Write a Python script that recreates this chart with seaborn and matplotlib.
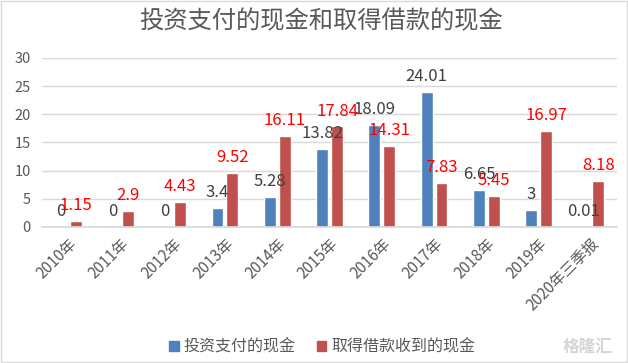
import matplotlib
matplotlib.use("Agg")
import matplotlib.pyplot as plt
import seaborn as sns
import pandas as pd
from matplotlib.patches import Rectangle

categories = ["2010年", "2011年", "2012年", "2013年", "2014年", "2015年", "2016年",
              "2017年", "2018年", "2019年", "2020年三季报"]
invest_cash = [0, 0, 0, 3.4, 5.28, 13.82, 18.09, 24.01, 6.65, 3, 0.01]
borrow_cash = [1.15, 2.9, 4.43, 9.52, 16.11, 17.84, 14.31, 7.83, 5.45, 16.97, 8.18]
series_names = ["投资支付的现金", "取得借款收到的现金"]
colors = ["#4F81BD", "#C0504D"]

df = pd.DataFrame({
    "cat": categories * 2,
    "val": invest_cash + borrow_cash,
    "series": [series_names[0]] * len(categories) + [series_names[1]] * len(categories),
})

sns.set_theme(style="white")
plt.rcParams['font.family'] = ['Noto Sans CJK SC', 'DejaVu Sans']

fig = plt.figure(figsize=(6.28, 3.63), dpi=100)
ax = fig.add_axes([0.0669, 0.3747, 0.9156, 0.4656])

sns.barplot(data=df, x="cat", y="val", hue="series", palette=colors,
            width=0.57, gap=0.2, ax=ax, legend=False, saturation=1)

ax.set_ylim(0, 30)
ax.set_yticks([0, 5, 10, 15, 20, 25, 30])
ax.set_xlim(-0.5, len(categories) - 0.5)
ax.yaxis.grid(True, color="#D9D9D9", linewidth=1)
ax.set_axisbelow(True)
for s in ["top", "left", "right"]:
    ax.spines[s].set_visible(False)
ax.spines["bottom"].set_color("#D9D9D9")
ax.set_xlabel("")
ax.set_ylabel("")
ax.tick_params(axis="y", length=0, labelsize=10.5, labelcolor="#595959", pad=8)
ax.tick_params(axis="x", length=0, labelsize=11, labelcolor="#595959", pad=6)
plt.setp(ax.get_xticklabels(), rotation=45, ha="right", rotation_mode="anchor")

label_colors = ["#404040", "#FF0000"]
for cont, lc in zip(ax.containers, label_colors):
    ax.bar_label(cont, fmt="%g", color=lc, fontsize=12, padding=5)

fig.text(0.511, 0.942, "投资支付的现金和取得借款的现金", ha="center", va="center",
         fontsize=17.5, color="#595959", fontweight="light")

handles = [Rectangle((0, 0), 1, 1, color=c) for c in colors]
fig.legend(handles, series_names, loc="center", bbox_to_anchor=(0.513, 0.044), ncol=2,
           frameon=False, fontsize=11.5, handlelength=0.6, handleheight=0.6,
           handletextpad=0.3, columnspacing=1.3, labelcolor="#595959")

fig.text(0.935, 0.044, "格隆汇", ha="center", va="center", fontsize=12,
         color="#D5D5D5", fontweight="bold")

fig.patches.append(Rectangle((0.002, 0.002), 0.996, 0.996, transform=fig.transFigure,
                             fill=False, edgecolor="#D9D9D9", linewidth=1))

fig.savefig("out.png", dpi=100)
